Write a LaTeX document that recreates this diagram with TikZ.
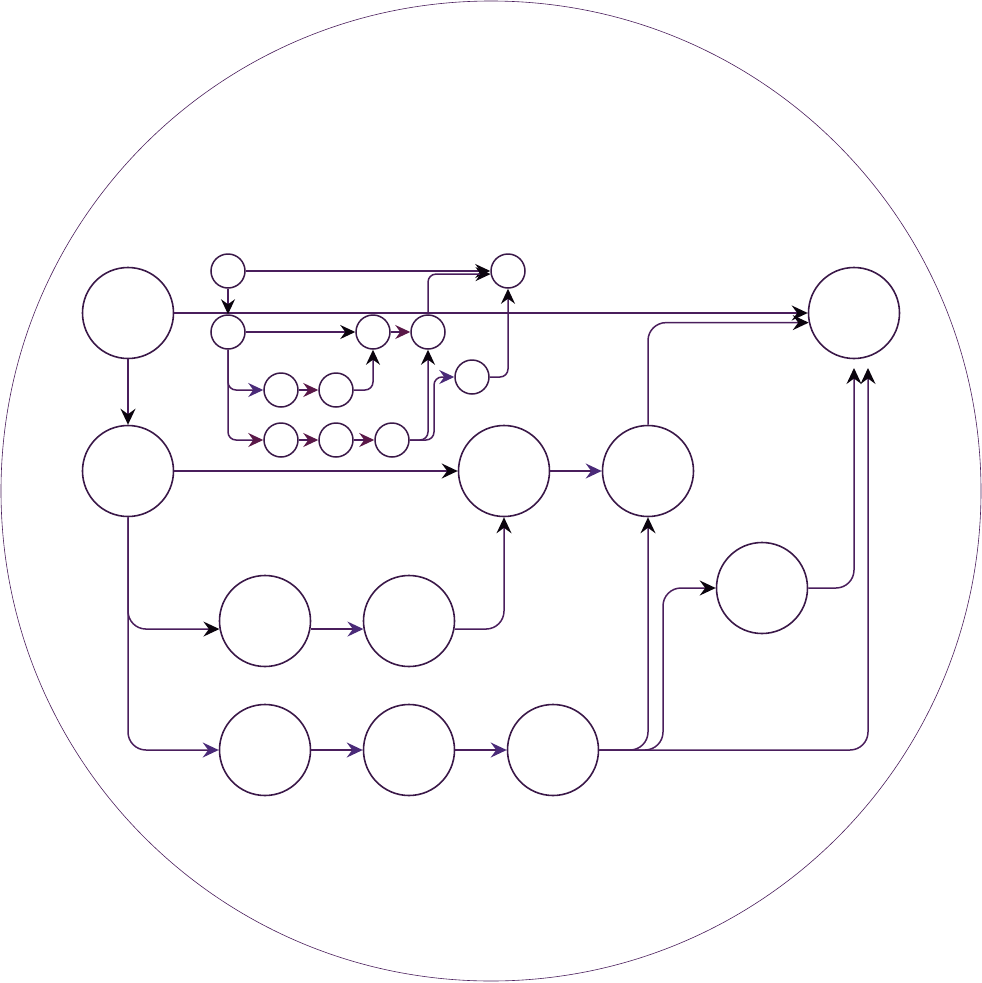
\documentclass[tikz,border=0pt]{standalone}
\usetikzlibrary{arrows.meta}
\definecolor{ln}{HTML}{4A1E5C}
\definecolor{nd}{HTML}{3A1848}
\definecolor{hp}{HTML}{4A2A78}
\definecolor{hm}{HTML}{5A1848}
\begin{document}
\begin{tikzpicture}[x=1pt,y=-1pt,
  big/.style={circle,draw=nd,line width=1.6pt,minimum size=91pt,inner sep=0pt},
  sm/.style={circle,draw=nd,line width=1.5pt,minimum size=34pt,inner sep=0pt},
  ed/.style={draw=ln,line width=1.5pt,rounded corners=18pt},
  sed/.style={draw=ln,line width=1.5pt,rounded corners=8pt},
  hk/.style={-{Stealth[length=16pt,width=15pt,inset=5.5pt,color=black!85!ln]}},
  hpu/.style={-{Stealth[length=16pt,width=15pt,inset=5.5pt,color=hp]}},
  shk/.style={-{Stealth[length=15pt,width=14pt,inset=5pt,color=black!85!ln]}},
  shm/.style={-{Stealth[length=15pt,width=14pt,inset=5pt,color=hm]}},
  shp/.style={-{Stealth[length=15pt,width=14pt,inset=5pt,color=hp]}}]
\useasboundingbox (0,0) rectangle (982,983);
\draw[ln,line width=0.6pt] (491,491) circle (490pt);
% big nodes
\node[big] (A) at (128,313) {};
\node[big] (B) at (128,471) {};
\node[big] (R) at (854,313) {};
\node[big] (C) at (504,471) {};
\node[big] (D) at (648,471) {};
\node[big] (E) at (762,588) {};
\node[big] (F) at (265,621) {};
\node[big] (G) at (409,621) {};
\node[big] (H) at (265,750) {};
\node[big] (I) at (409,750) {};
\node[big] (J) at (553,750) {};
% small nodes
\node[sm] (s1) at (228,271) {};
\node[sm] (s2) at (228,332) {};
\node[sm] (s3) at (373,332) {};
\node[sm] (s4) at (428,332) {};
\node[sm] (s5) at (508,271) {};
\node[sm] (s6) at (472,377) {};
\node[sm] (s7) at (281,390) {};
\node[sm] (s8) at (336,390) {};
\node[sm] (s9) at (281,440) {};
\node[sm] (s10) at (336,440) {};
\node[sm] (s11) at (392,440) {};
\coordinate (rb1) at (854,368);
\coordinate (rb2) at (868,368);
\coordinate (j1) at (663,750);
\coordinate (j2) at (868,750);
\coordinate (k1) at (434,440);
\coordinate (k2) at (434,377);
% big edges
\draw[ed,hk] (A) -- (B);
\draw[ed,hk] (A.east) -- (R.west);
\draw[ed,hk] (B.east) -- (C.west);
\draw[ed,hpu] (C.east) -- (D.west);
\draw[ed,hk] (D.north) |- (R.192);
\draw[ed,hk] (B.south) |- (F.190);
\draw[ed,hpu] (B.south) |- (H.west);
\draw[ed,hpu] (F.350) -- (G.190);
\draw[ed,hk] (G.350) -| (C.south);
\draw[ed,hpu] (H.east) -- (I.west);
\draw[ed,hpu] (I.east) -- (J.west);
\draw[ed,hk] (J.east) -| (D.south);
\draw[ed,hk] (J.east) -- (j1) |- (E.west);
\draw[ed,hk] (J.east) -- (j2) -- (rb2);
\draw[ed,hk] (E.east) -| (rb1);
% small edges
\draw[sed,shk] (s1) -- (s2);
\draw[sed,shk] (s1.east) -- (s5.west);
\draw[sed,shk] (s4.north) |- (s5.190);
\draw[sed,shk] (s2.east) -- (s3.west);
\draw[sed,shm] (s3.east) -- (s4.west);
\draw[sed,shp] (s2.south) |- (s7.west);
\draw[sed,shm] (s2.south) |- (s9.west);
\draw[sed,shm] (s7.east) -- (s8.west);
\draw[sed,shk] (s8.east) -| (s3.south);
\draw[sed,shm] (s9.east) -- (s10.west);
\draw[sed,shm] (s10.east) -- (s11.west);
\draw[sed,shk] (s11.east) -| (s4.south);
\draw[sed,shp] (s11.east) -- (k1) -- (k2) -- (s6.west);
\draw[sed,shk] (s6.east) -| (s5.south);
\end{tikzpicture}
\end{document}
